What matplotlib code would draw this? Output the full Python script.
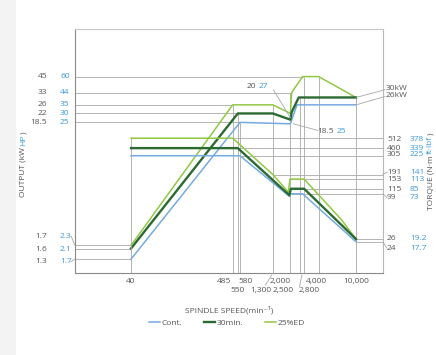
import matplotlib
matplotlib.use("Agg")
import matplotlib.pyplot as plt
from matplotlib.lines import Line2D
from matplotlib.patches import Rectangle
from matplotlib.ticker import NullLocator

plt.rcParams['font.family'] = ['Open Sans', 'DejaVu Sans']

W, H, DPI = 436, 355, 100

# ---------------- data ----------------
series_names = ['Cont.', '30min.', '25%ED']
# Output (kW) vs spindle speed (min^-1)
cont_p_speed = [40, 580, 2000, 2350, 10000]
cont_p_kw = [1.3, 18.5, 18.0, 26, 26]
m30_p_speed = [40, 550, 1300, 2000, 2060, 2450, 10000]
m30_p_kw = [1.6, 22, 22, 19.5, 22.5, 30, 30]
ed_p_speed = [40, 485, 1300, 2000, 2060, 2700, 4000, 10000]
ed_p_kw = [1.7, 26, 26, 22, 33, 45, 45, 30]
# Torque (N·m) vs spindle speed
cont_t_speed = [40, 580, 1950, 2020, 2700, 10000]
cont_t_nm = [305, 305, 92, 99, 99, 24]
m30_t_speed = [40, 550, 1950, 2020, 2800, 10000]
m30_t_nm = [382, 382, 95, 115, 115, 26]
ed_t_speed = [40, 485, 1300, 1900, 1980, 2800, 7000, 10000]
ed_t_nm = [512, 512, 175, 104, 153, 153, 46, 26]

speed_tick_values = [40, 485, 550, 580, 1300, 2000, 2500, 2800, 4000, 10000]
speed_tick_labels = ['40', '485', '550', '580', '1,300', '2,000', '2,500', '2,800', '4,000', '10,000']

left_kw_values = [45, 33, 26, 22, 18.5, 1.7, 1.6, 1.3]
left_kw_labels = ['45', '33', '26', '22', '18.5', '1.7', '1.6', '1.3']
left_hp_labels = ['60', '44', '35', '30', '25', '2.3', '2.1', '1.7']
left_line_end_speed = [2700, 2060, 485, 550, 580, 40, 40, 40]

right_ref_speed = [485, 550, 580, 1300, 1980, 2020, 2020, 10000, 10000]
right_ref_nm = [512, 382, 305, 175, 153, 115, 99, 26, 24]
right_nm_labels = ['512', '460', '305', '191', '153', '115', '99', '26', '24']
right_ftlb_labels = ['378', '339', '225', '141', '113', '85', '73', '19.2', '17.7']

vert_power_refs = [(485, 26), (550, 22), (580, 18.5), (1300, 26), (2000, 33),
                   (2500, 30), (2800, 45), (4000, 45), (10000, 30)]
vert_torque_refs = [(40, 512)]

# ---------------- styling ----------------
C_CONT = '#74abe0'
C_30 = '#2b6a30'
C_ED = '#92c843'
GREY = '#555555'
BLUE = '#3a9ad9'
REF = '#a8a8a8'

fig = plt.figure(figsize=(W / DPI, H / DPI), dpi=DPI)
fig.patch.set_facecolor('white')
fig.add_artist(Rectangle((0, 0), 16 / W, 1, transform=fig.transFigure,
                         facecolor='#f3f3f3', edgecolor='none', zorder=0))

ax = fig.add_axes([75 / W, 1 - 273 / H, (383 - 75) / W, (273 - 29) / H])
ax.set_xscale('log')
ax.set_yscale('log')
ax.set_xlim(10.12, 19400)
ax.set_ylim(0.995, 113.3)
ax2 = ax.twinx()
ax2.set_yscale('log')
ax2.set_ylim(9.54, 12900)

for a in (ax, ax2):
    a.xaxis.set_major_locator(NullLocator())
    a.xaxis.set_minor_locator(NullLocator())
    a.yaxis.set_major_locator(NullLocator())
    a.yaxis.set_minor_locator(NullLocator())
for s in ax2.spines.values():
    s.set_visible(False)
ax.spines['left'].set_color('#8a8a8a')
ax.spines['bottom'].set_color('#8a8a8a')
ax.spines['top'].set_color('#c8c8c8')
ax.spines['right'].set_color('#b8b8b8')
for s in ax.spines.values():
    s.set_linewidth(0.8)

xmin, xmax = ax.get_xlim()
pymin = ax.get_ylim()[0]
tymin = ax2.get_ylim()[0]

# reference lines
for v, xe in zip(left_kw_values, left_line_end_speed):
    ax.hlines(v, xmin, xe, color=REF, lw=0.6, zorder=1)
for xs, v in zip(right_ref_speed, right_ref_nm):
    ax2.hlines(v, xs, xmax, color=REF, lw=0.6, zorder=1)
for xv, top in vert_power_refs:
    ax.vlines(xv, pymin, top, color=REF, lw=0.6, zorder=1)
for xv, top in vert_torque_refs:
    ax2.vlines(xv, tymin, top, color=REF, lw=0.6, zorder=1)

# curves
l_cont, = ax.plot(cont_p_speed, cont_p_kw, color=C_CONT, lw=1.1, zorder=3, label=series_names[0])
l_30, = ax.plot(m30_p_speed, m30_p_kw, color=C_30, lw=1.7, zorder=4, label=series_names[1])
l_ed, = ax.plot(ed_p_speed, ed_p_kw, color=C_ED, lw=1.1, zorder=3, label=series_names[2])
ax2.plot(cont_t_speed, cont_t_nm, color=C_CONT, lw=1.1, zorder=3)
ax2.plot(m30_t_speed, m30_t_nm, color=C_30, lw=1.7, zorder=4)
ax2.plot(ed_t_speed, ed_t_nm, color=C_ED, lw=1.1, zorder=3)


def d2px(axis, x, y):
    dx, dy = axis.transData.transform((x, y))
    return dx, H - dy


def ftext(xpx, ypx, s, **kw):
    kw.setdefault('fontsize', 6)
    kw.setdefault('color', GREY)
    return fig.text(xpx / W, 1 - ypx / H, s, **kw)


def fline(x0, y0, x1, y1, color=REF, lw=0.6):
    fig.add_artist(Line2D([x0 / W, x1 / W], [1 - y0 / H, 1 - y1 / H],
                          transform=fig.transFigure, color=color, lw=lw))


# left labels
left_offsets = [0, 0, 0, 0, 0, -9.3, 0.7, 2.4]
for v, kl, hl, off in zip(left_kw_values, left_kw_labels, left_hp_labels, left_offsets):
    ly = d2px(ax, 40, v)[1]
    ty = ly + off
    ftext(47, ty, kl, ha='right', va='center')
    ftext(60, ty, hl, ha='left', va='center', color=BLUE)
    if abs(off) > 1.5:
        fline(71, ty, 75, ly)

# right torque labels
right_text_y = [139.5, 148, 155, 172, 179.5, 189.5, 197.5, 238.3, 248.3]
for xs, v, nl, fl, ty in zip(right_ref_speed, right_ref_nm, right_nm_labels,
                             right_ftlb_labels, right_text_y):
    ly = d2px(ax2, xs, v)[1]
    ftext(387, ty, nl, ha='left', va='center')
    ftext(410, ty, fl, ha='left', va='center', color=BLUE)
    if abs(ty - ly) > 1.5:
        fline(383, ly, 387, ty)

# right power labels
for v, lab, ty in [(30, '30kW', 88.8), (26, '26kW', 95.5)]:
    px, py = d2px(ax, 10000, v)
    fline(px, py, 385, ty + 1)
    ftext(386, ty, lab, ha='left', va='center')

# "20 27" label
px, py = d2px(ax, 2000, 19.5)
fline(273.5, 90, px, py - 2)
ftext(256, 86.5, '20', ha='right', va='center')
ftext(259, 86.5, '27', ha='left', va='center', color=BLUE)
# "18.5 25" label
px, py = d2px(ax, 2000, 18.0)
fline(px + 3, py, 318, 130.5)
ftext(334, 132, '18.5', ha='right', va='center')
ftext(337, 132, '25', ha='left', va='center', color=BLUE)

# bottom speed labels
tick_px = {v: d2px(ax, v, 1.0)[0] for v in speed_tick_values}
lab = dict(zip(speed_tick_values, speed_tick_labels))
r1, r2 = 281.7, 290.7
ftext(tick_px[40], r1, lab[40], ha='center', va='center')
ftext(tick_px[485] - 1.5, r1, lab[485], ha='right', va='center')
ftext(tick_px[580] - 2, r1, lab[580], ha='left', va='center')
ftext(tick_px[2000], r1, lab[2000], ha='right', va='center')
ftext(tick_px[4000] - 2, r1, lab[4000], ha='center', va='center')
ftext(tick_px[10000], r1, lab[10000], ha='center', va='center')
ftext(tick_px[550], r2, lab[550], ha='center', va='center')
ftext(tick_px[1300] - 1, r2, lab[1300], ha='right', va='center')
ftext(tick_px[2500] - 27, r2, lab[2500], ha='left', va='center')
ftext(tick_px[2800] - 5, r2, lab[2800], ha='left', va='center')
fline(271.7, 275, 265.5, 285)
fline(302, 275, 299.5, 286.5)

ftext(229, 310, 'SPINDLE SPEED(min\u207b\u00b9)', ha='center', va='center')

fig.legend([l_cont, l_30, l_ed], series_names, loc='center',
           bbox_to_anchor=(227 / W, 1 - 323 / H), ncol=3, frameon=False,
           fontsize=6, handlelength=1.3, handletextpad=0.2, columnspacing=2.6,
           labelcolor=GREY)

# rotated axis titles
r = fig.canvas.get_renderer()


def rot_parts(xpx, ybottom, parts, gaps):
    y = ybottom
    for (s, c), g in zip(parts, gaps):
        t = ftext(xpx, y, s, rotation=90, ha='center', va='bottom', color=c)
        bb = t.get_window_extent(r)
        y = H - bb.y1 - g


rot_parts(23.3, 197, [('OUTPUT (kW', GREY), ('HP', BLUE), (')', GREY)], [1.6, 0.2, 0])
rot_parts(430.5, 210, [('TORQUE (N\u00b7m', GREY), ('ft\u00b7lbf', BLUE), (')', GREY)], [1.6, 0.2, 0])

fig.savefig('out.png', dpi=DPI)
